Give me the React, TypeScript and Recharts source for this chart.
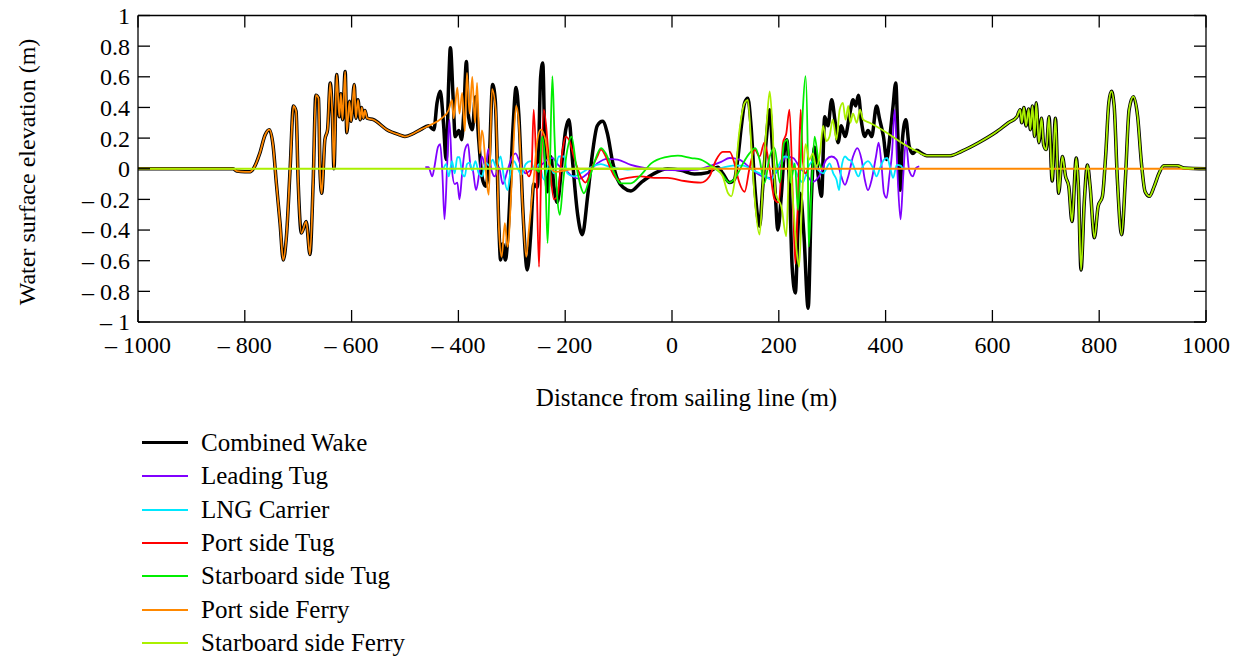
import { LineChart, Line, XAxis, YAxis } from "recharts";

type Pt = [number, number];

const xTicks = [-1000, -800, -600, -400, -200, 0, 200, 400, 600, 800, 1000];
const yTicks = [-1, -0.8, -0.6, -0.4, -0.2, 0, 0.2, 0.4, 0.6, 0.8, 1];

const portSideFerry: Pt[] = [
  [-1000, 0], [-822, 0], [-815, -0.015], [-800, -0.02], [-790, -0.02], [-784, 0], [-772, 0.1], [-762, 0.22],
  [-754, 0.255], [-747, 0.15], [-741, -0.09], [-734, -0.355], [-728, -0.595], [-722, -0.44], [-715, 0.01],
  [-709, 0.41], [-704, 0.375], [-700, -0.09], [-694, -0.42], [-685, -0.345], [-678, -0.56], [-672, -0.09],
  [-667, 0.48], [-662, 0.46], [-659, -0.03], [-656, -0.16], [-650, 0.19], [-645, 0.255], [-640, 0.56],
  [-636, 0.34], [-633, 0], [-628, 0.615], [-623, 0.34], [-620, 0.49], [-617, 0.32], [-612, 0.635], [-609, 0.235],
  [-604, 0.44], [-601, 0.31], [-595, 0.55], [-592, 0.33], [-588, 0.45], [-584, 0.32], [-581, 0.4], [-578, 0.33],
  [-575, 0.38], [-571, 0.33], [-559, 0.32], [-534, 0.255], [-509, 0.22], [-500, 0.21], [-484, 0.23],
  [-471, 0.255], [-456, 0.28], [-431, 0.33], [-418, 0.385], [-412, 0.45], [-409, 0.33], [-402, 0.53],
  [-398, 0.36], [-393, 0.495], [-388, 0.245], [-384, 0.625], [-379, 0.36], [-374, 0.6], [-369, 0.3],
  [-365, 0.56], [-360, 0.1], [-356, 0.25], [-343, -0.17], [-337, 0.52], [-330, 0.38], [-324, -0.4],
  [-319, -0.575], [-313, -0.355], [-308, -0.51], [-299, -0.01], [-292, 0.41], [-287, 0.31], [-280, -0.225],
  [-273, -0.575], [-268, -0.4], [-259, -0.07], [-252, 0.19], [-246, 0.255], [-237, 0.19], [-230, 0.03],
  [-218, -0.02], [-199, -0.01], [-180, 0], [1000, 0],
];

const starboardSideFerry: Pt[] = [
  [-1000, 0], [60, 0], [75, 0.01], [83, 0], [95, -0.05], [105, -0.16], [111, -0.18], [117, -0.09], [126, 0.24],
  [136, 0.43], [142, 0.45], [148, 0.18], [155, -0.2], [164, -0.43], [170, -0.115], [177, 0.28], [183, 0.505],
  [188, 0.28], [194, -0.16], [205, -0.25], [214, -0.44], [220, 0.06], [227, -0.23], [233, -0.52], [238, -0.64],
  [244, -0.16], [250, 0.16], [257, 0.06], [264, 0.1], [270, 0.01], [277, 0.1], [283, 0.28], [289, 0.18],
  [295, 0.21], [301, 0.32], [308, 0.19], [314, 0.385], [320, 0.43], [325, 0.32], [330, 0.41], [334, 0.3],
  [339, 0.36], [346, 0.3], [352, 0.385], [358, 0.32], [370, 0.3], [400, 0.24], [430, 0.17], [458, 0.115],
  [477, 0.085], [521, 0.085], [543, 0.115], [574, 0.17], [605, 0.235], [630, 0.3], [646, 0.34], [652, 0.385],
  [655, 0.3], [659, 0.4], [663, 0.28], [668, 0.39], [671, 0.255], [675, 0.41], [679, 0.21], [682, 0.43],
  [687, 0.17], [692, 0.33], [696, 0.155], [701, 0.125], [706, 0.34], [712, -0.08], [718, 0.33], [724, -0.16],
  [731, 0.08], [737, -0.05], [743, -0.115], [749, -0.345], [757, 0.07], [761, -0.115], [766, -0.66],
  [772, -0.22], [778, 0.025], [783, -0.115], [791, -0.45], [798, -0.245], [806, -0.18], [812, 0.08],
  [818, 0.43], [823, 0.505], [828, 0.41], [834, -0.07], [842, -0.43], [849, -0.07], [856, 0.385], [864, 0.47],
  [872, 0.34], [879, 0.04], [886, -0.15], [894, -0.18], [903, -0.115], [912, -0.03], [921, 0.02], [946, 0.02],
  [959, 0.005], [1000, 0],
];

// middle part of the combined wake, where it differs from the two ferries
const wakeCore: Pt[] = [
  [-446, 0.255], [-440, 0.43], [-434, 0.505], [-428, 0.3], [-423, 0.06], [-418, 0.58], [-415, 0.79], [-410, 0.47],
  [-406, 0.21], [-399, 0.25], [-394, 0.19], [-390, 0.36], [-385, 0.7], [-381, 0.34], [-374, 0.255], [-368, 0.47],
  [-362, 0.19], [-356, -0.05], [-349, -0.115], [-342, 0.08], [-336, 0.55], [-331, 0.45], [-324, -0.4],
  [-321, -0.595], [-317, -0.49], [-312, -0.595], [-306, -0.36], [-298, 0.25], [-292, 0.53], [-287, 0.36],
  [-279, -0.29], [-271, -0.66], [-265, -0.45], [-259, -0.1], [-252, -0.12], [-246, 0.6], [-242, 0.69],
  [-238, 0.14], [-233, -0.15], [-227, 0.08], [-221, -0.12], [-215, -0.22], [-205, 0.08], [-199, 0.255],
  [-193, 0.32], [-186, 0.04], [-177, -0.29], [-168, -0.43], [-158, -0.18], [-149, 0.1], [-140, 0.28],
  [-130, 0.31], [-121, 0.23], [-111, 0.04], [-102, -0.07], [-90, -0.125], [-77, -0.145], [-58, -0.09],
  [-33, -0.03], [-8, 0], [17, -0.01], [42, -0.035], [67, -0.025], [86, 0.01], [95, -0.03], [108, -0.09],
  [117, -0.07], [123, 0.06], [130, 0.28], [136, 0.43], [142, 0.46], [148, 0.28], [155, -0.115], [161, -0.33],
  [164, -0.375], [170, -0.115], [177, 0.21], [183, 0.385], [188, 0.14], [194, -0.2], [198, -0.4], [205, -0.16],
  [211, 0.14], [215, 0.19], [220, -0.115], [225, -0.64], [231, -0.81], [236, -0.38], [240, -0.16], [247, -0.43],
  [255, -0.91], [261, -0.2], [267, 0.14], [274, -0.05], [280, -0.18], [286, 0.34], [292, 0.28], [299, 0.45],
  [305, 0.32], [311, 0.17], [317, 0.28], [324, 0.21], [333, 0.36], [339, 0.45], [344, 0.41], [349, 0.48],
  [355, 0.3], [361, 0.21], [367, 0.25], [374, 0.21], [383, 0.41], [389, 0.32], [396, 0.21], [402, 0.06],
  [408, 0.21], [414, 0.41], [419, 0.56], [423, 0.21], [427, -0.14], [432, 0.21], [438, 0.32], [444, 0.15],
  [451, 0.1], [458, 0.12], [468, 0.1],
];

const combinedWake: Pt[] = [
  ...portSideFerry.filter(([x]) => x < -450),
  ...wakeCore,
  ...starboardSideFerry.filter(([x]) => x > 470),
];

const leadingTug: Pt[] = [
  [-462, 0.01], [-456, 0.01], [-449, -0.05], [-445, 0.01], [-438, 0.145], [-434, 0.16], [-430, -0.03],
  [-426, -0.33], [-421, 0.03], [-417, 0.32], [-412, -0.01], [-407, -0.1], [-402, -0.09], [-398, -0.2],
  [-393, -0.03], [-388, 0.12], [-382, 0.16], [-377, 0.01], [-373, -0.01], [-367, -0.14], [-361, -0.03],
  [-356, 0.08], [-349, 0.01], [-344, 0.13], [-338, -0.01], [-332, -0.05], [-324, 0.01], [-317, -0.1],
  [-308, -0.01], [-299, 0.08], [-293, 0.1], [-284, 0.03], [-274, -0.03], [-265, -0.01], [-252, 0.01],
  [-243, 0.03], [-233, 0.06], [-224, 0.07], [-212, 0.02], [-199, -0.01], [-190, -0.04], [-174, -0.065],
  [-158, -0.03], [-140, 0.035], [-121, 0.065], [-102, 0.06], [-77, 0.025], [-52, 0.005], [-21, -0.005],
  [17, -0.01], [48, -0.005], [73, 0.02], [92, 0.045], [108, 0.07], [126, 0.06], [145, 0.01], [164, -0.04],
  [183, -0.06], [202, 0.01], [214, 0.08], [227, 0.07], [239, 0.01], [252, -0.04], [264, -0.085], [277, -0.04],
  [289, 0.06], [299, 0.08], [308, 0.06], [317, -0.05], [324, -0.105], [330, -0.05], [339, 0.08], [347, 0.135],
  [355, 0.06], [361, -0.07], [367, -0.14], [374, -0.07], [382, 0.08], [387, 0.17], [392, 0.04], [397, -0.16],
  [402, -0.19], [407, -0.05], [412, 0.1], [417, 0.385], [422, -0.01], [428, -0.33], [433, -0.05], [438, 0.18],
  [444, -0.01], [451, -0.05], [457, 0.005], [463, 0.015],
];

const lngCarrier: Pt[] = [
  [-428, 0], [-423, 0.03], [-418, -0.05], [-412, 0.05], [-407, -0.03], [-402, 0.075], [-398, 0.075],
  [-393, -0.03], [-388, -0.05], [-384, 0.03], [-379, 0.04], [-374, -0.01], [-368, 0.05], [-362, -0.03],
  [-356, -0.05], [-349, 0.04], [-342, 0.02], [-336, 0.06], [-329, 0.01], [-321, 0.08], [-315, -0.05],
  [-308, -0.14], [-302, -0.01], [-296, 0.05], [-290, 0.01], [-282, -0.04], [-274, 0.03], [-265, 0.05],
  [-257, -0.01], [-249, 0.03], [-240, -0.07], [-230, 0.03], [-221, -0.03], [-212, 0.08], [-202, 0.08],
  [-196, -0.03], [-184, -0.05], [-171, -0.03], [-152, 0.01], [-133, 0.03], [-115, 0.01], [-83, -0.005],
  [-52, 0], [54, 0], [83, 0], [114, 0.02], [133, 0.02], [152, -0.01], [170, -0.04], [186, -0.07], [198, 0.01],
  [211, 0.08], [224, 0.05], [236, -0.05], [245, -0.09], [255, 0.01], [264, 0.05], [274, -0.01], [283, -0.03],
  [289, 0], [295, 0.035], [302, -0.03], [308, -0.07], [313, -0.14], [317, 0], [324, 0.08], [330, 0.06],
  [336, 0.05], [342, 0], [349, -0.05], [355, 0], [361, 0.035], [367, 0.05], [377, 0], [383, -0.05], [389, 0],
  [397, 0.06], [403, 0.07], [409, 0], [414, -0.06], [421, 0.025], [428, 0.02], [434, 0], [439, 0],
];

const portSideTug: Pt[] = [
  [-274, 0], [-268, -0.05], [-263, 0], [-259, 0.385], [-254, 0], [-249, -0.64], [-245, 0], [-240, 0.385],
  [-230, 0.05], [-221, -0.2], [-215, -0.18], [-205, 0.12], [-199, 0.21], [-193, 0.19], [-184, 0.08],
  [-171, -0.05], [-162, -0.09], [-149, 0.015], [-140, 0.08], [-133, 0.125], [-124, 0.08], [-115, 0],
  [-102, -0.07], [-83, -0.06], [-58, -0.05], [-33, -0.06], [-8, -0.06], [23, -0.08], [54, -0.09], [70, -0.05],
  [83, 0.06], [95, 0.11], [108, 0.11], [117, 0.035], [126, -0.09], [136, -0.15], [145, 0], [155, 0.125],
  [164, 0.08], [173, 0.17], [183, 0], [192, -0.2], [200, -0.22], [208, 0.17], [214, 0.23], [220, 0.385],
  [227, -0.27], [231, -0.62], [237, -0.05], [241, 0.385], [245, 0.05], [250, -0.03], [255, 0],
];

const starboardSideTug: Pt[] = [
  [-255, 0], [-249, -0.02], [-243, 0.21], [-238, 0.06], [-233, -0.485], [-229, -0.05], [-224, 0.605],
  [-220, 0.21], [-215, -0.18], [-210, -0.3], [-204, -0.09], [-196, 0.125], [-188, 0.21], [-180, 0.035],
  [-171, -0.115], [-165, -0.16], [-155, -0.07], [-146, 0.035], [-133, 0.135], [-124, 0.1], [-111, -0.005],
  [-96, -0.095], [-77, -0.095], [-58, -0.04], [-39, 0.035], [-14, 0.075], [11, 0.085], [36, 0.07], [54, 0.06],
  [73, 0.02], [92, -0.03], [108, -0.09], [120, -0.05], [133, 0.035], [145, 0.1], [156, 0.135], [164, 0.06],
  [173, -0.095], [183, 0.08], [192, 0.135], [202, -0.09], [210, 0.17], [216, 0.19], [222, -0.09], [230, 0.035],
  [236, -0.27], [241, 0.06], [245, 0.385], [250, 0.605], [254, 0.16], [256, -0.51], [261, -0.16], [267, 0.21],
  [274, 0.06], [280, 0],
];

const toPoints = (arr: Pt[]) => arr.map(([x, y]) => ({ x, y }));

const series = [
  { name: "Combined Wake", data: combinedWake, color: "#000000", width: 3.5, legendWidth: 3 },
  { name: "Leading Tug", data: leadingTug, color: "#8000ff", width: 1.8, legendWidth: 2 },
  { name: "LNG Carrier", data: lngCarrier, color: "#00e8ff", width: 1.8, legendWidth: 2 },
  { name: "Port side Tug", data: portSideTug, color: "#ff0000", width: 1.8, legendWidth: 2 },
  { name: "Starboard side Tug", data: starboardSideTug, color: "#00ee00", width: 1.8, legendWidth: 2 },
  { name: "Port side Ferry", data: portSideFerry, color: "#ff8800", width: 1.8, legendWidth: 2 },
  { name: "Starboard side Ferry", data: starboardSideFerry, color: "#aaf000", width: 1.8, legendWidth: 2 },
];

const FONT = '"Liberation Serif", "Times New Roman", serif';
const TICK = 12;
const SHIFT = 20; // chart svg starts above the page so the top tick label is not clipped
const fmt = (v: number) => (v < 0 ? `– ${Math.abs(v)}` : `${v}`);

const BottomTick = ({ x, y, payload }: any) => (
  <g>
    <line x1={x} x2={x} y1={y} y2={y - TICK} stroke="#000" strokeWidth={1.3} />
    <text x={x} y={y + 23} dy="0.35em" textAnchor="middle" fontSize={24} fontFamily={FONT} fill="#000">
      {fmt(payload.value)}
    </text>
  </g>
);
const TopTick = ({ x, y }: any) => (
  <line x1={x} x2={x} y1={y} y2={y + TICK} stroke="#000" strokeWidth={1.3} />
);
const LeftTick = ({ x, y, payload }: any) => (
  <g>
    <line x1={x} x2={x + TICK} y1={y} y2={y} stroke="#000" strokeWidth={1.3} />
    <text x={x - 8} y={y} dy="0.35em" textAnchor="end" fontSize={24} fontFamily={FONT} fill="#000">
      {fmt(payload.value)}
    </text>
  </g>
);
const RightTick = ({ x, y }: any) => (
  <line x1={x} x2={x - TICK} y1={y} y2={y} stroke="#000" strokeWidth={1.3} />
);

const axisLine = { stroke: "#000", strokeWidth: 1.3 };

export default function App() {
  return (
    <div
      style={{
        position: "relative",
        top: -SHIFT,
        width: 1229,
        height: 648 + SHIFT,
        fontFamily: FONT,
        color: "#000",
      }}
    >
      <LineChart width={1229} height={410 + SHIFT} margin={{ top: 6.5 + SHIFT, right: 30, left: 129, bottom: 95 }}>
        <XAxis
          dataKey="x"
          type="number"
          domain={[-1000, 1000]}
          ticks={xTicks}
          height={1}
          tickSize={0}
          tickMargin={0}
          tickLine={false}
          tick={BottomTick}
          axisLine={axisLine}
          interval={0}
          allowDataOverflow
        />
        <XAxis
          xAxisId="top"
          orientation="top"
          dataKey="x"
          type="number"
          domain={[-1000, 1000]}
          ticks={xTicks}
          height={1}
          tickSize={0}
          tickMargin={0}
          tickLine={false}
          tick={TopTick}
          axisLine={axisLine}
          interval={0}
          allowDataOverflow
        />
        <YAxis
          type="number"
          domain={[-1, 1]}
          ticks={yTicks}
          width={1}
          tickSize={0}
          tickMargin={0}
          tickLine={false}
          tick={LeftTick}
          axisLine={axisLine}
          interval={0}
          allowDataOverflow
        />
        <YAxis
          yAxisId="right"
          orientation="right"
          type="number"
          domain={[-1, 1]}
          ticks={yTicks}
          width={1}
          tickSize={0}
          tickMargin={0}
          tickLine={false}
          tick={RightTick}
          axisLine={axisLine}
          interval={0}
          allowDataOverflow
        />
        {series.map((s) => (
          <Line
            key={s.name}
            data={toPoints(s.data)}
            dataKey="y"
            name={s.name}
            type="monotone"
            stroke={s.color}
            strokeWidth={s.width}
            strokeLinejoin="round"
            dot={false}
            activeDot={false}
            isAnimationActive={false}
          />
        ))}
      </LineChart>

      <div
        style={{
          position: "absolute",
          left: 19,
          top: 164 + SHIFT,
          transform: "translate(-50%, -50%) rotate(-90deg)",
          whiteSpace: "nowrap",
          fontSize: 24,
          lineHeight: 1,
        }}
      >
        Water surface elevation (m)
      </div>
      <div
        style={{
          position: "absolute",
          left: 678.5,
          top: 389 + SHIFT,
          transform: "translate(-50%, -50%)",
          whiteSpace: "nowrap",
          fontSize: 25,
          lineHeight: 1,
        }}
      >
        Distance from sailing line (m)
      </div>

      <div style={{ position: "absolute", left: 134, top: 418.3 + SHIFT }}>
        {series.map((s) => (
          <div key={s.name} style={{ display: "flex", alignItems: "center", height: 33.33 }}>
            <div style={{ width: 46, height: s.legendWidth, background: s.color }} />
            <span style={{ marginLeft: 13, fontSize: 25, whiteSpace: "nowrap" }}>{s.name}</span>
          </div>
        ))}
      </div>
    </div>
  );
}
